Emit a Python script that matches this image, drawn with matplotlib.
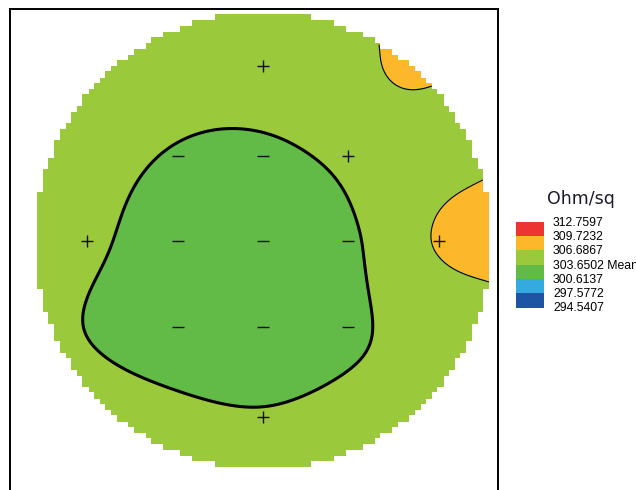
#!/usr/bin/env python3
import numpy as np
import matplotlib
matplotlib.use("Agg")
import matplotlib.pyplot as plt
from matplotlib.colors import ListedColormap, BoundaryNorm
from matplotlib.patches import Rectangle

mean_val = 303.6502
levels = [294.5407, 297.5772, 300.6137, 303.6502, 306.6867, 309.7232, 312.7597]
level_colors = ["#1d55a4", "#34aae0", "#62bb46", "#9bc93c", "#fdb72b", "#ee3333"]

# measurement sites (mm) and sheet resistance values (Ohm/sq)
site_x = [0, -56, 0, 56, -115, -56, 0, 56, 115, -56, 0, 56, 0]
site_y = [115, 56, 56, 56, 0, 0, 0, 0, 0, -56, -56, -56, -115]
site_val = [304.85, 303.45, 303.2, 304.25, 304.15, 302.35, 302.15, 303.2,
            306.95, 302.35, 302.35, 303.2, 303.85]

# map values estimated along the wafer rim (angle in degrees, r = 148 mm)
rim_angle = [0, 30, 50, 60, 90, 120, 150, 180, 205, 240, 270, 300, 330, 345]
rim_val = [307.9, 305.3, 307.3, 306.6, 305.4, 305.1, 304.9, 304.6, 303.95,
           305.0, 304.8, 305.0, 304.6, 305.9]

WAFER_R = 150.0
RIM_R = 148.0
CELL = 3.75
PX_PER_MM = 229.0 / WAFER_R

sx = np.array(site_x + list(RIM_R * np.cos(np.radians(rim_angle))), float)
sy = np.array(site_y + list(RIM_R * np.sin(np.radians(rim_angle))), float)
sv = np.array(site_val + rim_val, float)


def tps_kernel(r):
    with np.errstate(divide="ignore", invalid="ignore"):
        k = r**2 * np.log(r)
    return np.nan_to_num(k)


# thin plate spline surface through all samples
n = len(sx)
K = tps_kernel(np.hypot(sx[:, None] - sx[None, :], sy[:, None] - sy[None, :]))
P = np.column_stack([np.ones(n), sx, sy])
A = np.zeros((n + 3, n + 3))
A[:n, :n] = K
A[:n, n:] = P
A[n:, :n] = P.T
b = np.concatenate([sv, np.zeros(3)])
coef = np.linalg.solve(A, b)
w, a = coef[:n], coef[n:]

g = np.arange(-153, 153.01, 0.5)
X, Y = np.meshgrid(g, g)
Z = a[0] + a[1] * X + a[2] * Y
for i in range(n):
    Z += w[i] * tps_kernel(np.hypot(X - sx[i], Y - sy[i]))

# pixelated wafer outline
cx = np.round(X / CELL) * CELL
cy = np.round(Y / CELL) * CELL
inside = np.hypot(cx, cy) <= 149.5
Zm = np.ma.masked_where(~inside, Z)

# figure, 636x490 px
fig = plt.figure(figsize=(6.36, 4.9), dpi=100)
W, H = 636.0, 490.0
cx_px, cy_px = 263.0, 241.5
ax_left, ax_right, ax_top, ax_bot = 10.0, 498.0, 9.0, 520.0
ax = fig.add_axes([ax_left / W, 1 - ax_bot / H, (ax_right - ax_left) / W, (ax_bot - ax_top) / H])
ax.set_xlim((ax_left - cx_px) / PX_PER_MM, (ax_right - cx_px) / PX_PER_MM)
ax.set_ylim(-(ax_bot - cy_px) / PX_PER_MM, (cy_px - ax_top) / PX_PER_MM)
ax.set_xticks([])
ax.set_yticks([])
for sp in ax.spines.values():
    sp.set_linewidth(1.4)
    sp.set_color("black")

cmap = ListedColormap(level_colors)
norm = BoundaryNorm(levels, cmap.N)
ax.imshow(Zm, cmap=cmap, norm=norm, origin="lower", interpolation="nearest",
          extent=[g[0] - 0.25, g[-1] + 0.25, g[0] - 0.25, g[-1] + 0.25], aspect="auto")
ax.contour(X, Y, Zm, levels=[mean_val], colors="black", linewidths=2.2)
ax.contour(X, Y, Zm, levels=[levels[4]], colors="black", linewidths=0.8)

# site markers: + above mean, - below mean
for x, y, v in zip(site_x, site_y, site_val):
    m = "+" if v > mean_val else "_"
    ax.plot(x, y, marker=m, color="#111111", markersize=8, mew=1.0, linestyle="none")

# legend
fig.text(581 / W, 1 - 199 / H, "Ohm/sq", ha="center", va="center", fontsize=12.5,
         family="DejaVu Sans", color="#1a1a2e")
sw_top, sw_h = 221.7, 14.33
for i, col in enumerate(reversed(level_colors)):
    y0 = sw_top + i * sw_h
    fig.add_artist(Rectangle((516 / W, 1 - (y0 + sw_h) / H), 27.5 / W, sw_h / H,
                             transform=fig.transFigure, facecolor=col, edgecolor="none"))
for i, lv in enumerate(reversed(levels)):
    lab = f"{lv:.4f}" + (" Mean" if abs(lv - mean_val) < 1e-6 else "")
    fig.text(553 / W, 1 - (223 + i * 14.2) / H, lab, ha="left", va="center",
             fontsize=8.8, family="Liberation Sans", color="black")

fig.savefig("out.png", dpi=100)
